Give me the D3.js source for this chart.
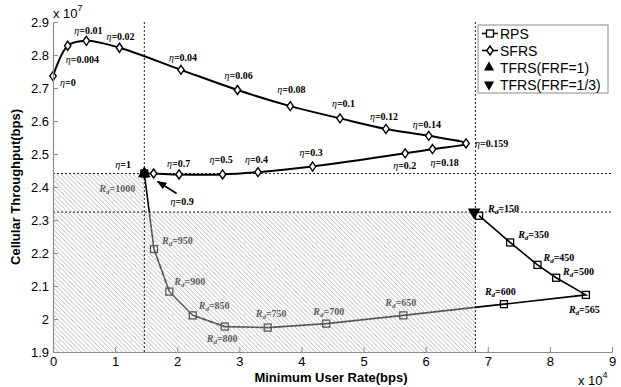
<!DOCTYPE html>
<html>
<head>
<meta charset="utf-8">
<script src="https://cdn.jsdelivr.net/npm/d3@7"></script>
<style>
  body { margin: 0; background: #fff; }
  text { font-family: "Liberation Sans", Arial, sans-serif; }
</style>
</head>
<body>
<div id="chart"></div>
<script>
// x values in units of 10^4 bps, y values in units of 10^7 bps
const xTicks = [0, 1, 2, 3, 4, 5, 6, 7, 8, 9];
const yTicks = [1.9, 2.0, 2.1, 2.2, 2.3, 2.4, 2.5, 2.6, 2.7, 2.8, 2.9];

// SFRS curve, labelled by eta
const sfrsEta = ["0", "0.004", "0.01", "0.02", "0.04", "0.06", "0.08", "0.1", "0.12", "0.14",
                 "0.159", "0.18", "0.2", "0.3", "0.4", "0.5", "0.7", "0.9", "1"];
const sfrsX = [0, 0.237, 0.537, 1.07, 2.06, 2.97, 3.82, 4.62, 5.36, 6.05,
               6.65, 6.11, 5.67, 4.18, 3.30, 2.73, 2.03, 1.62, 1.47];
const sfrsY = [2.736, 2.828, 2.843, 2.822, 2.755, 2.694, 2.645, 2.608, 2.576, 2.555,
               2.532, 2.515, 2.502, 2.462, 2.445, 2.438, 2.438, 2.441, 2.441];

// RPS curve, labelled by Rd
const rpsRd = ["1000", "950", "900", "850", "800", "750", "700", "650", "600", "565", "500", "450", "350", "150"];
const rpsX = [1.47, 1.626, 1.873, 2.25, 2.765, 3.457, 4.40, 5.64, 7.26, 8.58, 8.10, 7.80, 7.36, 6.86];
const rpsY = [2.441, 2.212, 2.083, 2.011, 1.977, 1.974, 1.986, 2.011, 2.045, 2.073, 2.125, 2.164, 2.232, 2.313];

// TFRS points
const tfrs1 = [1.47, 2.441];
const tfrs3 = [6.78, 2.324];

// threshold lines
const vLines = [1.47, 6.8];
const hLines = [2.441, 2.324];

const legendNames = ["RPS", "SFRS", "TFRS(FRF=1)", "TFRS(FRF=1/3)"];

// label placement (layout only)
const sfrsDx = [7, -2, -12, -13, -12, -13, -13, -8, -16, -16, 9, -2, -12, -13, -13, -13, -12, 17, -29];
const sfrsDy = [10, 17, -7, -8, -9, -11, -13, -11, -9, -8, 4, 17, 16, -11, -9, -11, -7, 32, -5];
const rpsDx = [-45, 8, 5, 6, -18, -12, -13, -18, -19, -17, 7, 6, 8, 9];
const rpsDy = [19, -5, -7, -6, 15, -11, -9, -9, -9, 18, -3, -4, -4, -4];

const W = 621, H = 387;
const margin = {l: 53, r: 9, t: 22, b: 35};
const width = W - margin.l - margin.r;
const height = H - margin.t - margin.b;

const outer = d3.select("#chart").append("svg")
    .attr("width", W).attr("height", H);
outer.append("rect").attr("width", W).attr("height", H).attr("fill", "#fff");

const defs = outer.append("defs");
const pat = defs.append("pattern")
    .attr("id", "hatch")
    .attr("patternUnits", "userSpaceOnUse")
    .attr("width", 4.5).attr("height", 4.5);
pat.append("path")
    .attr("d", "M0,0 L4.5,4.5 M-1,3.5 L1,5.5 M3.5,-1 L5.5,1")
    .attr("stroke", "#9a9a9a")
    .attr("stroke-width", 0.7);

const svg = outer.append("g").attr("transform", `translate(${margin.l},${margin.t})`);

const x = d3.scaleLinear().domain([0, 9]).range([0, width]);
const y = d3.scaleLinear().domain([1.9, 2.9]).range([height, 0]);

// curves
const smooth = d3.line().curve(d3.curveCatmullRom.alpha(0.5));
const straight = d3.line();
const rpsPts = rpsX.map((v, i) => [x(v), y(rpsY[i])]);
const sfrsPts = sfrsX.map((v, i) => [x(v), y(sfrsY[i])]);

svg.append("path")
    .attr("d", straight(rpsPts))
    .attr("fill", "none").attr("stroke", "#000").attr("stroke-width", 1.6);

svg.selectAll(".rps")
    .data(rpsPts).join("rect")
    .attr("class", "rps")
    .attr("x", d => d[0] - 3.5).attr("y", d => d[1] - 3.5)
    .attr("width", 7).attr("height", 7)
    .attr("fill", "none").attr("stroke", "#000").attr("stroke-width", 1.3);

// Rd labels
const rdText = svg.selectAll(".rdlab")
    .data(rpsPts).join("text")
    .attr("class", "rdlab")
    .attr("x", (d, i) => d[0] + rpsDx[i])
    .attr("y", (d, i) => d[1] + rpsDy[i])
    .style("font-family", "'Liberation Serif', 'Times New Roman', serif")
    .style("font-size", "10px")
    .style("font-weight", "bold");
rdText.append("tspan").style("font-style", "italic").text("R");
rdText.append("tspan").style("font-style", "italic").attr("dy", 2).style("font-size", "7px").text("d");
rdText.append("tspan").attr("dy", -2).text((d, i) => "=" + rpsRd[i]);

// hatched region (lighten what lies beneath)
const region = `M${x(0)},${y(hLines[0])} H${x(vLines[0])} V${y(hLines[1])} H${x(vLines[1])} V${y(1.9)} H${x(0)} Z`;
svg.append("path").attr("d", region).attr("fill", "#fff").attr("fill-opacity", 0.3);
svg.append("path").attr("d", region).attr("fill", "url(#hatch)");

// dashed thresholds
svg.selectAll(".vline").data(vLines).join("line")
    .attr("x1", d => x(d)).attr("x2", d => x(d))
    .attr("y1", 0).attr("y2", height)
    .attr("stroke", "#000").attr("stroke-width", 0.9).attr("stroke-dasharray", "2,2");
svg.selectAll(".hline").data(hLines).join("line")
    .attr("x1", 0).attr("x2", width)
    .attr("y1", d => y(d)).attr("y2", d => y(d))
    .attr("stroke", "#000").attr("stroke-width", 0.9).attr("stroke-dasharray", "2,2");

// SFRS
svg.append("path")
    .attr("d", smooth(sfrsPts))
    .attr("fill", "none").attr("stroke", "#000").attr("stroke-width", 2);

const diamond = "M0,-4.5 L3.2,0 L0,4.5 L-3.2,0 Z";
svg.selectAll(".sfrs")
    .data(sfrsPts).join("path")
    .attr("class", "sfrs")
    .attr("transform", d => `translate(${d[0]},${d[1]})`)
    .attr("d", diamond)
    .attr("fill", "#fff").attr("stroke", "#000").attr("stroke-width", 1.4);

const etaText = svg.selectAll(".etalab")
    .data(sfrsPts).join("text")
    .attr("class", "etalab")
    .attr("x", (d, i) => d[0] + sfrsDx[i])
    .attr("y", (d, i) => d[1] + sfrsDy[i])
    .style("font-family", "'Liberation Serif', 'Times New Roman', serif")
    .style("font-size", "10px")
    .style("font-weight", "bold");
etaText.append("tspan").style("font-style", "italic").style("font-weight", "normal").text("\u03b7");
etaText.append("tspan").text((d, i) => "=" + sfrsEta[i]);

// arrow to eta=0.9
const p09 = sfrsPts[17];
defs.append("marker")
    .attr("id", "arrow").attr("viewBox", "0 0 10 10")
    .attr("refX", 9).attr("refY", 5)
    .attr("markerWidth", 6).attr("markerHeight", 6)
    .attr("orient", "auto")
    .append("path").attr("d", "M0,1 L10,5 L0,9 Z").attr("fill", "#000");
svg.append("line")
    .attr("x1", p09[0] + 23).attr("y1", p09[1] + 20)
    .attr("x2", p09[0] + 4).attr("y2", p09[1] + 8)
    .attr("stroke", "#000").attr("stroke-width", 1.6)
    .attr("marker-end", "url(#arrow)");

// TFRS triangles
const triUp = d3.symbol().type(d3.symbolTriangle).size(70);
svg.append("path")
    .attr("transform", `translate(${x(tfrs1[0])},${y(tfrs1[1])})`)
    .attr("d", triUp).attr("fill", "#000");
svg.append("path")
    .attr("transform", `translate(${x(tfrs3[0])},${y(tfrs3[1])}) rotate(180)`)
    .attr("d", triUp).attr("fill", "#000");

// axes
const axisX = d3.axisBottom(x).tickValues(xTicks).tickSizeInner(-5).tickSizeOuter(0).tickPadding(5)
    .tickFormat(d3.format("d"));
const axisY = d3.axisLeft(y).tickValues(yTicks).tickSizeInner(-5).tickSizeOuter(0).tickPadding(4)
    .tickFormat(d3.format(".2~f"));

const gx = svg.append("g").attr("transform", `translate(0,${height})`).call(axisX);
const gy = svg.append("g").call(axisY);
[gx, gy].forEach(g => {
    g.select(".domain").attr("stroke", "#8c8c8c").attr("stroke-width", 1.2);
    g.selectAll(".tick line").attr("stroke", "#8c8c8c");
    g.selectAll(".tick text").attr("fill", "#000").style("font-size", "13px");
});

// axis titles
svg.append("text")
    .attr("x", 278).attr("y", height + 30)
    .attr("text-anchor", "middle")
    .style("font-size", "13px").style("font-weight", "bold")
    .text("Minimum User Rate(bps)");
svg.append("text")
    .attr("transform", "rotate(-90)")
    .attr("x", -height / 2).attr("y", -33)
    .attr("text-anchor", "middle")
    .style("font-size", "13px").style("font-weight", "bold")
    .text("Cellular Throughput(bps)");

// exponent labels
const e7 = outer.append("text").attr("x", 53).attr("y", 18).style("font-size", "13px");
e7.append("tspan").text("x 10");
e7.append("tspan").attr("dy", -7).style("font-size", "9px").text("7");
const e4 = outer.append("text").attr("x", 578).attr("y", 385).style("font-size", "13px");
e4.append("tspan").text("x 10");
e4.append("tspan").attr("dy", -7).style("font-size", "9px").text("4");

// legend
const lg = outer.append("g").attr("transform", "translate(478,25)");
lg.append("rect").attr("width", 130).attr("height", 68)
    .attr("fill", "#fff").attr("stroke", "#8c8c8c").attr("stroke-width", 1);
legendNames.forEach((name, i) => {
    const cy = 8.5 + i * 17;
    const row = lg.append("g").attr("transform", `translate(0,${cy})`);
    if (i < 2) {
        row.append("line").attr("x1", 4).attr("x2", 20).attr("stroke", "#000").attr("stroke-width", 1.6);
        if (i === 0) {
            row.append("rect").attr("x", 8.5).attr("y", -3.5).attr("width", 7).attr("height", 7)
                .attr("fill", "#fff").attr("stroke", "#000").attr("stroke-width", 1.3);
        } else {
            row.append("path").attr("transform", "translate(12,0)").attr("d", diamond)
                .attr("fill", "#fff").attr("stroke", "#000").attr("stroke-width", 1.4);
        }
    } else {
        row.append("path")
            .attr("transform", `translate(11,0)${i === 3 ? " rotate(180)" : ""}`)
            .attr("d", d3.symbol().type(d3.symbolTriangle).size(45)).attr("fill", "#000");
    }
    row.append("text").attr("x", 22).attr("y", 5).style("font-size", "14px").text(name);
});
</script>
</body>
</html>
